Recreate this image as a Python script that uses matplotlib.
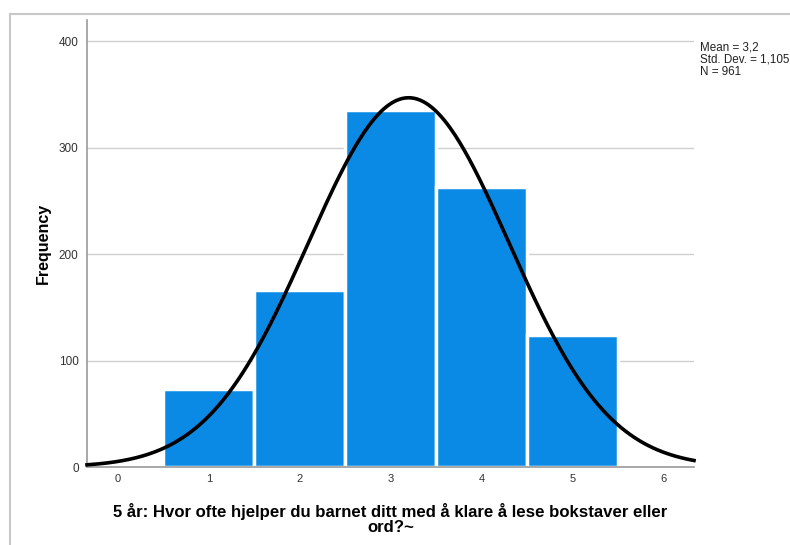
import numpy as np
import matplotlib
matplotlib.use("Agg")
import matplotlib.pyplot as plt
from matplotlib.lines import Line2D

categories = [1, 2, 3, 4, 5]
counts = [73, 166, 335, 263, 124]
mean_val = 3.2
std_val = 1.105
n_val = 961
xticks = [0, 1, 2, 3, 4, 5, 6]
yticks = [0, 100, 200, 300, 400]

plt.rcParams['font.family'] = ['Liberation Sans', 'DejaVu Sans']

fig = plt.figure(figsize=(7.9, 5.45), dpi=100)
ax = fig.add_axes([87/790, 1-467/545, (694-87)/790, (467-20)/545])

ax.bar(categories, counts, width=1.0, color='#0A8AE4', edgecolor='white', linewidth=2.5, zorder=2)

xs = np.linspace(-0.34, 6.34, 400)
ys = n_val * 1.0 * np.exp(-0.5 * ((xs - mean_val) / std_val) ** 2) / (std_val * np.sqrt(2 * np.pi))
ax.plot(xs, ys, color='black', linewidth=2.6, zorder=3, clip_on=False)

ax.set_xlim(-0.34, 6.34)
ax.set_ylim(0, 420)
ax.set_xticks(xticks)
ax.set_yticks(yticks)
ax.yaxis.grid(True, color='#cfcfcf', linewidth=1.0, zorder=0)
ax.set_axisbelow(True)
for s in ['top', 'right']:
    ax.spines[s].set_visible(False)
ax.spines['left'].set_color('#9a9a9a')
ax.spines['bottom'].set_color('#9a9a9a')
ax.spines['left'].set_linewidth(1.2)
ax.spines['bottom'].set_linewidth(1.2)
ax.tick_params(axis='x', length=0, labelsize=8, labelcolor='#333333', pad=5)
ax.tick_params(axis='y', length=0, labelsize=8.5, labelcolor='#333333', pad=6)

ax.set_ylabel('Frequency', fontsize=11.5, fontweight='bold', labelpad=6)
ax.set_xlabel('5 år: Hvor ofte hjelper du barnet ditt med å klare å lese bokstaver eller\nord?~',
              fontsize=12.1, fontweight='bold', labelpad=14, linespacing=1.0)

fig.text(700/790, 1-41/545, 'Mean = 3,2\nStd. Dev. = 1,105\nN = 961', fontsize=8.4,
         va='top', ha='left', linespacing=1.05, color='#222222')

fig.add_artist(Line2D([10/790, 10/790], [0, 1-14/545], transform=fig.transFigure, color='#c8c8c8', linewidth=1.5))
fig.add_artist(Line2D([10/790, 1], [1-14/545, 1-14/545], transform=fig.transFigure, color='#c8c8c8', linewidth=1.5))

fig.savefig('out.png', dpi=100)
